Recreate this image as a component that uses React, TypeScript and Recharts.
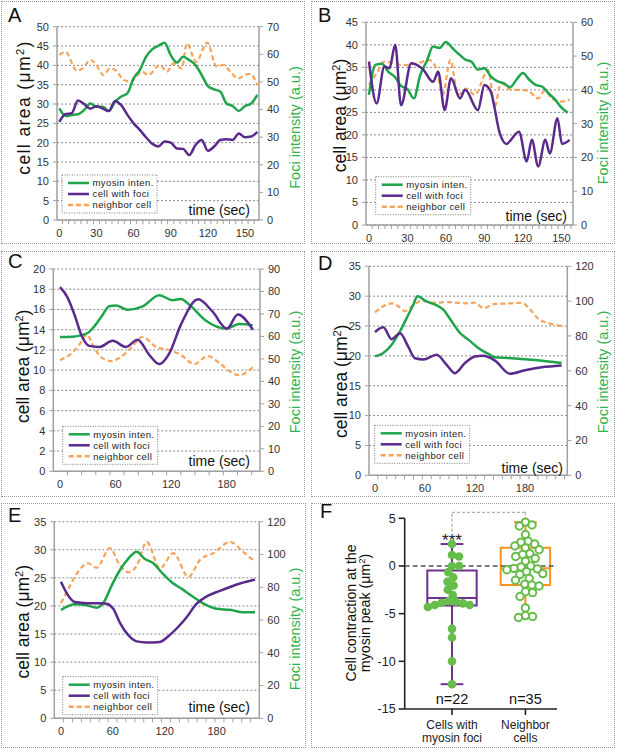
import {
  CartesianGrid,
  ComposedChart,
  Line,
  LineChart,
  ReferenceArea,
  ReferenceDot,
  ReferenceLine,
  Scatter,
  XAxis,
  YAxis,
} from "recharts"

const FONT = '"Liberation Sans", Arial, Helvetica, sans-serif'
const GREEN = "#1fa44b"
const PURPLE = "#5a2a8d"
const ORANGE = "#f6a35c"
const TITLE_GREEN = "#2fb34c"
const AXIS = "#a0a0a0"
const DOT_GREEN = "#66bd4a"
const BOX_PURPLE = "#6e2f92"
const BOX_ORANGE = "#f7941e"

const seriesLabels = ["myosin inten.", "cell with foci", "neighbor cell"]

// ---------- panel A ----------
const aTime = [0, 5, 10, 15, 20, 25, 30, 35, 40, 45, 50, 55, 60, 65, 70, 75, 80, 85, 90, 95, 100, 105, 110, 115, 120, 125, 130, 135, 140, 145, 150, 155, 160]
const aMyosin = [40.4, 37.7, 38.0, 38.3, 39.8, 42.2, 41.0, 41.0, 39.5, 42.8, 44.7, 45.9, 51.3, 54.3, 59.1, 61.8, 63.1, 64.2, 59.7, 57.0, 59.1, 57.9, 56.1, 52.5, 48.5, 47.3, 46.5, 42.2, 41.3, 39.5, 41.3, 42.2, 45.3]
const aFoci = [25.4, 27.4, 27.6, 30.9, 30.0, 28.8, 29.4, 28.8, 28.2, 30.8, 29.7, 27.2, 25.0, 23.3, 21.4, 19.7, 19.0, 20.3, 20.0, 18.5, 18.4, 16.8, 19.4, 20.7, 17.9, 19.0, 20.7, 20.9, 20.7, 22.4, 21.4, 21.6, 22.8]
const aNbTime = [0, 5, 14, 19, 25, 30, 35.5, 41, 46, 52, 58, 62.5, 66.5, 72, 81, 87, 92, 99, 103, 110.5, 119.5, 127, 132.5, 138, 144.5, 150, 154, 160]
const aNeighbor = [42.7, 43.5, 38.6, 39.2, 41.4, 40.1, 37.5, 39.2, 38.6, 36.2, 35.8, 37.2, 38.4, 37.5, 40.1, 38.4, 40.5, 39.2, 45.7, 40.9, 45.9, 39.7, 40.1, 38.4, 36.6, 37.5, 37.8, 34.9]

// ---------- panel B ----------
const bTime = [0, 5, 10, 15, 20, 25, 30, 35, 40, 45, 50, 55, 60, 65, 70, 75, 80, 85, 90, 95, 100, 105, 110, 115, 120, 125, 130, 135, 140, 145, 150, 155]
const bMyosin = [38.5, 47.4, 47.7, 45.4, 43.9, 41.2, 40.2, 37.5, 44.4, 48.4, 52.8, 52.4, 54.2, 52.4, 50.6, 49.0, 48.3, 46.0, 46.4, 44.0, 42.6, 42.0, 40.8, 43.0, 45.0, 43.0, 41.5, 41.0, 39.0, 37.2, 34.8, 33.2]
const bFociTime = [0, 6, 12, 16, 20.5, 25, 33, 36, 42, 50, 54, 59, 64, 71, 75, 85, 90, 95, 102, 107, 117, 123, 127, 132, 137.5, 141, 147, 150.5, 156.5]
const bFoci = [36.3, 27.0, 35.2, 34.8, 40.0, 26.6, 35.9, 35.7, 34.6, 31.8, 34.0, 25.5, 32.6, 28.1, 30.0, 25.5, 31.1, 29.6, 20.4, 18.0, 20.7, 14.1, 18.9, 13.0, 18.9, 15.9, 23.7, 18.0, 18.9]
const bNbTime = [0, 6, 12, 20, 28, 38, 47, 52.5, 57.5, 63.5, 69.5, 76, 82.5, 93, 98, 103, 111, 119, 125, 132, 137, 143.5, 150, 156.5]
const bNeighbor = [31.1, 33.7, 36.3, 35.8, 35.5, 35.9, 36.6, 34.8, 28.9, 36.6, 28.9, 30.3, 28.9, 34.4, 26.3, 31.5, 30.0, 30.0, 29.6, 28.1, 29.8, 27.9, 27.4, 27.8]

// ---------- panel C ----------
const cMyTime = [0, 13.7, 24.4, 29.9, 37.1, 44.3, 53.2, 60.4, 73.1, 89.4, 107.3, 121.7, 130.6, 139.7, 157.7, 179.3, 193.6, 208.1]
const cMyosin = [59.8, 59.9, 60.7, 61.5, 64.5, 68.5, 73.4, 73.8, 71.9, 73.4, 78.3, 76.1, 76.7, 74.1, 67.0, 63.5, 65.5, 65.0]
const cFociTime = [0, 8.1, 15.2, 24.4, 31.5, 42.7, 56.9, 71.1, 83.8, 96.5, 107.2, 117.8, 130.6, 149.3, 164.6, 180.3, 192.0, 208.3]
const cFoci = [18.2, 17.2, 15.6, 13.2, 12.4, 12.3, 12.9, 12.3, 13.0, 11.5, 10.6, 11.6, 14.5, 17.0, 15.8, 14.1, 15.5, 14.0]
const cNbTime = [0, 11.7, 20.8, 29.0, 37.1, 44.2, 54.9, 64.0, 76.7, 89.4, 103.6, 117.8, 130.6, 145.3, 159.5, 172.2, 186.4, 193.5, 208.3]
const cNeighbor = [11.0, 11.6, 12.5, 13.5, 12.2, 11.3, 10.9, 11.2, 12.2, 13.3, 12.3, 12.0, 11.5, 10.6, 11.4, 10.7, 9.7, 9.5, 10.3]

// ---------- panel D ----------
const dMyTime = [0, 10, 20, 30, 40, 46, 51, 61, 72, 82, 92, 102, 112, 124, 136, 144, 160, 192, 224]
const dMyosin = [68.3, 70.2, 75.0, 82.7, 92.2, 98.0, 102.8, 100.0, 98.0, 95.1, 88.4, 81.7, 77.9, 73.1, 69.7, 67.8, 67.4, 66.2, 64.5]
const dFociTime = [0, 10, 20, 30, 40, 48, 58, 74, 86, 96, 108, 120, 130, 144, 162, 180, 200, 224]
const dFoci = [24.0, 24.8, 22.8, 23.8, 21.5, 19.6, 19.4, 20.2, 18.5, 17.1, 18.8, 19.9, 20.0, 19.2, 17.0, 17.6, 18.1, 18.4]
const dNbTime = [0, 10, 20, 28, 36, 46, 56, 72, 88, 108, 120, 130, 144, 164, 176, 186, 196, 208, 224]
const dNeighbor = [27.3, 28.3, 28.8, 28.3, 27.5, 28.5, 29.2, 28.9, 29.0, 28.8, 28.9, 28.0, 28.7, 28.8, 28.9, 27.8, 26.2, 25.5, 25.0]

// ---------- panel E ----------
const eMyTime = [0, 16.2, 29.7, 41.2, 49, 58.6, 68.2, 77.9, 87.5, 97.1, 106.8, 116.4, 128, 139.6, 153, 166.5, 180, 195.4, 210.9, 224.4]
const eMyosin = [66.1, 69.6, 69.0, 67.5, 70.5, 81.0, 90.5, 97.5, 101.7, 97.2, 94.6, 89.0, 83.0, 79.0, 74.0, 69.5, 66.8, 66.2, 64.8, 64.8]
const eFociTime = [0, 6.6, 16.2, 29.7, 45.1, 52.8, 60.5, 68.2, 77.9, 87.5, 99.1, 114.5, 124.1, 135.7, 145.3, 156.9, 168.5, 183.9, 207, 224.4]
const eFoci = [24.3, 22.3, 20.7, 20.5, 20.5, 20.4, 19.5, 17.0, 14.8, 13.7, 13.5, 13.6, 14.6, 16.3, 18.0, 20.4, 21.7, 22.7, 24.0, 24.7]
const eNbTime = [0, 8.5, 18.1, 31.6, 41.2, 56.7, 68.2, 79, 88, 99.1, 114.5, 129.9, 147.3, 160.8, 176.2, 195.4, 210.9, 224.4]
const eNeighbor = [20.5, 23.0, 25.7, 27.6, 26.8, 30.3, 27.2, 26.0, 27.3, 31.4, 26.7, 29.4, 25.2, 28.2, 29.4, 31.4, 29.6, 27.9]

// ---------- panel F ----------
const groupLabels = [["Cells with", "myosin foci"], ["Neighbor", "cells"]]
const cellsWithFoci = [2.3, 1.15, 1.0, 0.0, 0.0, -0.65, -1.2, -1.65, -2.05, -2.5, -3.05, -3.67, -3.92, -4.09, -4.3, -4.09, -3.85, -3.74, -6.6, -7.5, -10.0, -12.4]
const neighborCells = [4.6, 4.3, 4.2, 3.3, 2.6, 2.5, 2.3, 2.1, 1.9, 1.7, 1.3, 1.2, 1.0, 0.8, 0.5, 0.0, -0.1, -0.25, -0.3, -0.4, -0.6, -0.8, -0.9, -1.3, -1.5, -1.9, -2.0, -2.1, -2.7, -2.8, -3.2, -4.4, -5.2, -5.3, -5.4]
const fYTicks = [-15, -10, -5, 0, 5]

// tick helpers
const steps = (from: number, to: number, step: number) => {
  const out: number[] = []
  for (let v = from; v <= to + 1e-9; v += step) out.push(Math.round(v * 100) / 100)
  return out
}
const rows = (t: number[], v: number[]) => t.map((x, i) => ({ t: x, v: v[i] }))

type Series = { t: number[]; v: number[] }
type PanelSpec = {
  letter: string
  box: { x: number; y: number; w: number; h: number }
  plot: { left: number; right: number; top: number; bottom: number }
  xDomain: [number, number]
  xMinor: number[]
  xLabels: number[]
  leftTicks: number[]
  rightTicks: number[]
  myosin: Series
  foci: Series
  neighbor: Series
  letterPos: [number, number]
  leftTitle: [number, number]
  leftTitleSpacing: number
  rightTitle: [number, number]
  legend: [number, number]
  timeLabel: [number, number]
}

const panels: PanelSpec[] = [
  {
    letter: "A",
    box: { x: 1, y: 1, w: 304, h: 243 },
    plot: { left: 56, right: 258, top: 25.7, bottom: 219 },
    xDomain: [-1.9, 161.3],
    xMinor: steps(2.5, 160, 5),
    xLabels: [0, 30, 60, 90, 120, 150],
    leftTicks: steps(0, 50, 5),
    rightTicks: steps(0, 70, 10),
    myosin: { t: aTime, v: aMyosin },
    foci: { t: aTime, v: aFoci },
    neighbor: { t: aNbTime, v: aNeighbor },
    letterPos: [7, 21],
    leftTitle: [22.5, 106.5],
    leftTitleSpacing: 1.4,
    rightTitle: [294, 126.5],
    legend: [61, 174],
    timeLabel: [249, 214],
  },
  {
    letter: "B",
    box: { x: 311, y: 1, w: 304, h: 243 },
    plot: { left: 55, right: 262, top: 21.3, bottom: 224 },
    xDomain: [-2.3, 159.1],
    xMinor: steps(2.5, 157.5, 5),
    xLabels: [0, 30, 60, 90, 120, 150],
    leftTicks: steps(0, 45, 5),
    rightTicks: steps(0, 60, 10),
    myosin: { t: bTime, v: bMyosin },
    foci: { t: bFociTime, v: bFoci },
    neighbor: { t: bNbTime, v: bNeighbor },
    letterPos: [7, 21],
    leftTitle: [29, 114.5],
    leftTitleSpacing: 0,
    rightTitle: [292, 122],
    legend: [64.7, 175.7],
    timeLabel: [256, 220],
  },
  {
    letter: "C",
    box: { x: 1, y: 251, w: 304, h: 246 },
    plot: { left: 52.3, right: 259, top: 18, bottom: 220.3 },
    xDomain: [-7.2, 216],
    xMinor: steps(8.1, 215, 15.3),
    xLabels: [0, 60, 120, 180],
    leftTicks: steps(0, 20, 2),
    rightTicks: steps(0, 90, 10),
    myosin: { t: cMyTime, v: cMyosin },
    foci: { t: cFociTime, v: cFoci },
    neighbor: { t: cNbTime, v: cNeighbor },
    letterPos: [7, 17],
    leftTitle: [22, 115.3],
    leftTitleSpacing: 0,
    rightTitle: [294, 121],
    legend: [61.7, 175.3],
    timeLabel: [249, 214.7],
  },
  {
    letter: "D",
    box: { x: 311, y: 251, w: 304, h: 246 },
    plot: { left: 58, right: 256.3, top: 15.3, bottom: 224.3 },
    xDomain: [-7.2, 230.8],
    xMinor: steps(3.47, 230, 10.67),
    xLabels: [0, 60, 120, 180],
    leftTicks: steps(0, 35, 5),
    rightTicks: steps(0, 120, 20),
    myosin: { t: dMyTime, v: dMyosin },
    foci: { t: dFociTime, v: dFoci },
    neighbor: { t: dNbTime, v: dNeighbor },
    letterPos: [7, 18.7],
    leftTitle: [30, 130.3],
    leftTitleSpacing: 0,
    rightTitle: [292, 121],
    legend: [63.7, 174.3],
    timeLabel: [252, 222],
  },
  {
    letter: "E",
    box: { x: 1, y: 503, w: 305, h: 245 },
    plot: { left: 53.3, right: 258.3, top: 18.7, bottom: 215.3 },
    xDomain: [-7.7, 229.3],
    xMinor: steps(3, 228, 10.3),
    xLabels: [0, 60, 120, 180],
    leftTicks: steps(0, 35, 5),
    rightTicks: steps(0, 120, 20),
    myosin: { t: eMyTime, v: eMyosin },
    foci: { t: eFociTime, v: eFoci },
    neighbor: { t: eNbTime, v: eNeighbor },
    letterPos: [7, 18.7],
    leftTitle: [22, 118.7],
    leftTitleSpacing: 0,
    rightTitle: [294, 126],
    legend: [61.7, 173.7],
    timeLabel: [249, 208.7],
  },
]

const X_TICK_SIZE = 4
const X_TICK_MARGIN = 5

// minor tick marks sit between the labelled values, so the tick draws its own mark
function XTick(props: any) {
  const { x, y, payload, labels } = props
  if (labels.includes(payload.value)) {
    return (
      <text x={x} y={y} dy="0.71em" textAnchor="middle" fontSize={11} fill="#333" fontFamily={FONT}>
        {payload.value}
      </text>
    )
  }
  const axisY = y - X_TICK_SIZE - X_TICK_MARGIN
  return <line x1={x} x2={x} y1={axisY} y2={axisY + X_TICK_SIZE} stroke={AXIS} strokeWidth={1} />
}

function LegendBox({ x, y }: { x: number; y: number }) {
  const strokes = [GREEN, PURPLE, ORANGE]
  return (
    <g>
      <rect x={x} y={y} width={95} height={38} fill="#fff" stroke="#777" strokeDasharray="1 1.5" />
      {seriesLabels.map((label, i) => {
        const ry = y + 8 + i * 11
        return (
          <g key={label}>
            <line x1={x + 6} x2={x + 27} y1={ry} y2={ry} stroke={strokes[i]} strokeWidth={2.5}
              strokeDasharray={i === 2 ? "5 3" : undefined} />
            <text x={x + 30.5} y={ry} dy="0.35em" fontSize={9.5} letterSpacing={0.4} fill="#222">{label}</text>
          </g>
        )
      })}
    </g>
  )
}

function LinePanel({ s }: { s: PanelSpec }) {
  const { box, plot } = s
  const tickStyle = { fontSize: 11, fill: "#333", fontFamily: FONT }
  const [lx, ly] = s.leftTitle
  const [rx, ry] = s.rightTitle
  const xTicks = [...s.xMinor, ...s.xLabels].sort((a, b) => a - b)
  return (
    <div style={{ position: "absolute", left: box.x, top: box.y, width: box.w, height: box.h }}>
      <div style={{ position: "absolute", inset: 0, border: "1px dotted #999", boxSizing: "border-box" }} />
      <div style={{ position: "absolute", left: 0, top: 0 }}>
        <LineChart width={box.w} height={box.h} margin={{ top: plot.top, right: 0, bottom: 0, left: 0 }}>
          <CartesianGrid yAxisId="l" vertical={false} stroke="#8a8a8a" strokeDasharray="2 2" />
          <XAxis
            type="number"
            dataKey="t"
            domain={s.xDomain}
            allowDataOverflow
            ticks={xTicks}
            interval={0}
            height={box.h - plot.bottom}
            tickSize={X_TICK_SIZE}
            tickMargin={X_TICK_MARGIN}
            axisLine={{ stroke: AXIS, strokeWidth: 1.5 }}
            tickLine={false}
            tick={(p: any) => <XTick {...p} labels={s.xLabels} />}
          />
          <YAxis
            yAxisId="l"
            type="number"
            domain={[0, s.leftTicks[s.leftTicks.length - 1]]}
            ticks={s.leftTicks}
            interval={0}
            width={plot.left}
            tickSize={4}
            tickMargin={4}
            axisLine={{ stroke: AXIS, strokeWidth: 1.5 }}
            tickLine={{ stroke: AXIS }}
            tick={tickStyle}
          />
          <YAxis
            yAxisId="r"
            orientation="right"
            type="number"
            domain={[0, s.rightTicks[s.rightTicks.length - 1]]}
            ticks={s.rightTicks}
            interval={0}
            width={box.w - plot.right}
            tickSize={4}
            tickMargin={4}
            axisLine={{ stroke: AXIS, strokeWidth: 1.5 }}
            tickLine={{ stroke: AXIS }}
            tick={tickStyle}
          />
          <Line yAxisId="l" data={rows(s.neighbor.t, s.neighbor.v)} dataKey="v" type="monotone" stroke={ORANGE}
            strokeWidth={2.2} strokeDasharray="5 3" dot={false} isAnimationActive={false} />
          <Line yAxisId="r" data={rows(s.myosin.t, s.myosin.v)} dataKey="v" type="monotone" stroke={GREEN}
            strokeWidth={2.5} dot={false} isAnimationActive={false} />
          <Line yAxisId="l" data={rows(s.foci.t, s.foci.v)} dataKey="v" type="monotone" stroke={PURPLE}
            strokeWidth={2.5} dot={false} isAnimationActive={false} />
        </LineChart>
      </div>
      <svg width={box.w} height={box.h} fontFamily={FONT}
        style={{ position: "absolute", left: 0, top: 0, overflow: "visible", pointerEvents: "none" }}>
        <text x={s.letterPos[0]} y={s.letterPos[1]} fontSize={20} fill="#111">{s.letter}</text>
        <text transform={`rotate(-90 ${lx} ${ly})`} x={lx} y={ly} dy="0.35em" textAnchor="middle"
          fontSize={17.5} letterSpacing={s.leftTitleSpacing} fill="#111">
          cell area (μm<tspan dy={-6} fontSize={11}>2</tspan><tspan dy={6}>)</tspan>
        </text>
        <text transform={`rotate(-90 ${rx} ${ry})`} x={rx} y={ry} dy="0.35em" textAnchor="middle"
          fontSize={14.5} fill={TITLE_GREEN}>
          Foci intensity (a.u.)
        </text>
        <text x={s.timeLabel[0]} y={s.timeLabel[1]} textAnchor="end" fontSize={14} fill="#111">time (sec)</text>
        <LegendBox x={s.legend[0]} y={s.legend[1]} />
      </svg>
    </div>
  )
}

// GraphPad-style percentile ((n+1) method)
function quantile(sorted: number[], p: number) {
  const n = sorted.length
  const pos = p * (n + 1)
  const lo = Math.floor(pos)
  if (lo < 1) return sorted[0]
  if (lo >= n) return sorted[n - 1]
  return sorted[lo - 1] + (pos - lo) * (sorted[lo] - sorted[lo - 1])
}

// simple beeswarm: horizontal pixel offsets so dots don't pile up
function swarm(values: number[], pxPerY: number, minDist: number) {
  const placed: { x: number; y: number }[] = []
  const offsets = new Array(values.length).fill(0)
  const order = values.map((_, i) => i).sort((a, b) => values[b] - values[a])
  for (const i of order) {
    const y = values[i] * pxPerY
    const cands = [0]
    for (const p of placed) {
      const dy = Math.abs(p.y - y)
      if (dy < minDist) {
        const dx = Math.sqrt(minDist * minDist - dy * dy)
        cands.push(p.x + dx, p.x - dx)
      }
    }
    cands.sort((a, b) => Math.abs(a) - Math.abs(b))
    const x = cands.find((c) => placed.every((p) => Math.hypot(p.x - c, p.y - y) >= minDist - 1e-6)) ?? 0
    placed.push({ x, y })
    offsets[i] = x
  }
  return offsets
}

function BoxPanel() {
  const box = { x: 311, y: 503, w: 304, h: 245 }
  const margin = { top: 15.3, right: 58, bottom: 0, left: 0 }
  const yAxisW = 93.7
  const xAxisH = 39
  const xDomain: [number, number] = [0.356, 2.43]
  const yDomain: [number, number] = [-15, 5]
  const plotW = box.w - margin.left - margin.right - yAxisW
  const plotH = box.h - margin.top - margin.bottom - xAxisH
  const pxX = plotW / (xDomain[1] - xDomain[0])
  const pxY = plotH / (yDomain[1] - yDomain[0])
  const BOX_HALF = 0.336
  const CAP_HALF = 0.155
  const colors = [BOX_PURPLE, BOX_ORANGE]

  const groups = [cellsWithFoci, neighborCells].map((vals, gi) => {
    const sorted = [...vals].sort((a, b) => a - b)
    const stats = {
      min: sorted[0],
      q1: quantile(sorted, 0.25),
      med: quantile(sorted, 0.5),
      q3: quantile(sorted, 0.75),
      max: sorted[sorted.length - 1],
    }
    const offs = swarm(vals, pxY, 7.2)
    const pts = vals.map((v, i) => ({ x: gi + 1 + offs[i] / pxX, y: v }))
    return { stats, pts, n: vals.length }
  })

  const axisStroke = { stroke: "#222", strokeWidth: 1.6 }
  const bracketTop = 5.63
  const bracketLeftStart = 3.6
  const nLabelY = -13.95

  return (
    <div style={{ position: "absolute", left: box.x, top: box.y, width: box.w, height: box.h }}>
      <div style={{ position: "absolute", inset: 0, border: "1px dotted #999", boxSizing: "border-box" }} />
      <div style={{ position: "absolute", left: 0, top: 0 }}>
        <ComposedChart width={box.w} height={box.h} margin={margin}>
          <XAxis
            type="number"
            dataKey="x"
            domain={xDomain}
            allowDataOverflow
            ticks={[1, 2]}
            interval={0}
            height={xAxisH}
            tickSize={6}
            tickMargin={5}
            axisLine={axisStroke}
            tickLine={axisStroke}
            tick={(p: any) => {
              const lines = groupLabels[p.payload.value - 1] ?? []
              return (
                <text x={p.x} y={p.y} textAnchor="middle" fontSize={12} fill="#222" fontFamily={FONT}>
                  {lines.map((l, i) => (
                    <tspan key={l} x={p.x} dy={i === 0 ? "0.71em" : 13.4}>{l}</tspan>
                  ))}
                </text>
              )
            }}
          />
          <YAxis
            type="number"
            dataKey="y"
            domain={yDomain}
            ticks={fYTicks}
            interval={0}
            width={yAxisW}
            tickSize={6}
            tickMargin={3}
            axisLine={axisStroke}
            tickLine={axisStroke}
            tick={{ fontSize: 12.5, fill: "#222", fontFamily: FONT }}
          />
          <ReferenceLine y={0} stroke="#555" strokeDasharray="5 3" strokeWidth={1.3} />
          <ReferenceLine segment={[{ x: 1, y: bracketLeftStart }, { x: 1, y: bracketTop }]} ifOverflow="visible"
            stroke="#b0b0b0" strokeDasharray="3 2" strokeWidth={1.3} />
          <ReferenceLine segment={[{ x: 1, y: bracketTop }, { x: 2, y: bracketTop }]} ifOverflow="visible"
            stroke="#b0b0b0" strokeDasharray="3 2" strokeWidth={1.3} />
          <ReferenceLine segment={[{ x: 2, y: bracketTop }, { x: 2, y: groups[1].stats.max }]} ifOverflow="visible"
            stroke="#b0b0b0" strokeDasharray="3 2" strokeWidth={1.3} />
          {groups.map((g, gi) => {
            const c = gi + 1
            const col = colors[gi]
            const st = g.stats
            return [
              <ReferenceArea key={`box${gi}`} x1={c - BOX_HALF} x2={c + BOX_HALF} y1={st.q1} y2={st.q3}
                stroke={col} strokeWidth={2} fill="none" fillOpacity={0} />,
              <ReferenceLine key={`med${gi}`} segment={[{ x: c - BOX_HALF, y: st.med }, { x: c + BOX_HALF, y: st.med }]}
                stroke={col} strokeWidth={2} />,
              <ReferenceLine key={`wu${gi}`} segment={[{ x: c, y: st.q3 }, { x: c, y: st.max }]} stroke={col} strokeWidth={2} />,
              <ReferenceLine key={`wl${gi}`} segment={[{ x: c, y: st.q1 }, { x: c, y: st.min }]} stroke={col} strokeWidth={2} />,
              <ReferenceLine key={`cu${gi}`} segment={[{ x: c - CAP_HALF, y: st.max }, { x: c + CAP_HALF, y: st.max }]}
                stroke={col} strokeWidth={2} />,
              <ReferenceLine key={`cl${gi}`} segment={[{ x: c - CAP_HALF, y: st.min }, { x: c + CAP_HALF, y: st.min }]}
                stroke={col} strokeWidth={2} />,
            ]
          })}
          <Scatter data={groups[0].pts} dataKey="y" isAnimationActive={false}
            shape={(p: any) => <circle cx={p.cx} cy={p.cy} r={4.3} fill={DOT_GREEN} />} />
          <Scatter data={groups[1].pts} dataKey="y" isAnimationActive={false}
            shape={(p: any) => <circle cx={p.cx} cy={p.cy} r={3.7} fill="#fff" stroke={DOT_GREEN} strokeWidth={2} />} />
          <ReferenceDot x={1} y={groups[0].stats.max} r={0} ifOverflow="visible"
            label={{ value: "***", position: "top", offset: -2, fontSize: 17, fill: "#222", fontFamily: FONT }} />
          {groups.map((g, gi) => (
            <ReferenceDot key={`n${gi}`} x={gi + 1} y={nLabelY} r={0}
              label={{ value: `n=${g.n}`, position: "center", fontSize: 14.5, fill: "#111", fontFamily: FONT }} />
          ))}
        </ComposedChart>
      </div>
      <svg width={box.w} height={box.h} fontFamily={FONT}
        style={{ position: "absolute", left: 0, top: 0, overflow: "visible", pointerEvents: "none" }}>
        <text x={9} y={15.3} fontSize={20} fill="#111">F</text>
        <text transform="rotate(-90 39.7 110)" x={39.7} y={110} dy="0.35em" textAnchor="middle" fontSize={14.2} fill="#111">
          Cell contraction at the
        </text>
        <text transform="rotate(-90 53.7 110)" x={53.7} y={110} dy="0.35em" textAnchor="middle" fontSize={14.2} fill="#111">
          myosin peak (μm<tspan dy={-5} fontSize={9.5}>2</tspan><tspan dy={5}>)</tspan>
        </text>
      </svg>
    </div>
  )
}

export default function App() {
  return (
    <div style={{ position: "absolute", left: 0, top: 0, width: 617, height: 749, background: "#fff", fontFamily: FONT }}>
      {panels.map((s) => (
        <LinePanel key={s.letter} s={s} />
      ))}
      <BoxPanel />
    </div>
  )
}
